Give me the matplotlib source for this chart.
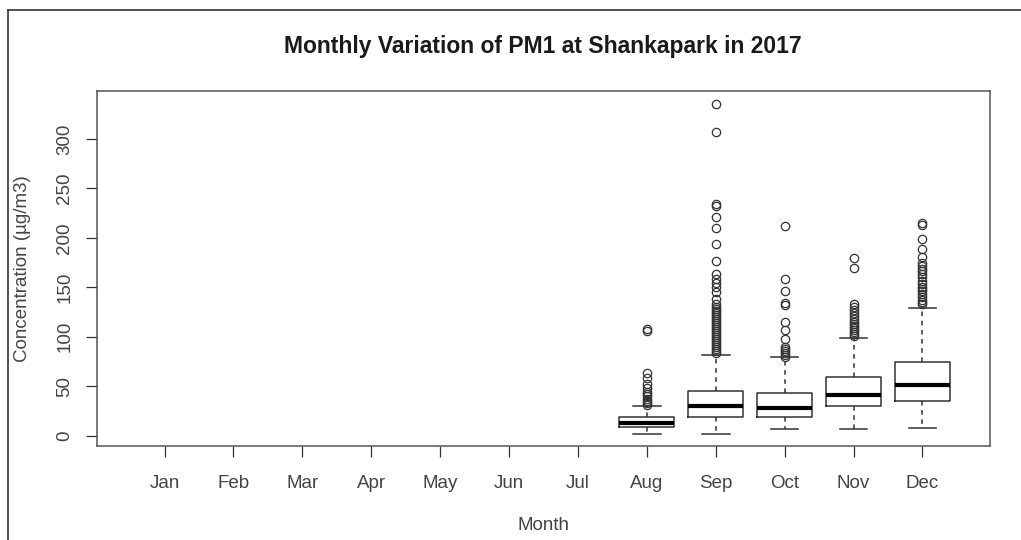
import matplotlib.pyplot as plt
from matplotlib.lines import Line2D

plt.rcParams['font.family'] = ['Liberation Sans', 'DejaVu Sans']

months = ['Jan', 'Feb', 'Mar', 'Apr', 'May', 'Jun', 'Jul', 'Aug', 'Sep', 'Oct', 'Nov', 'Dec']

# box statistics (Aug..Dec have data)
box_months = ['Aug', 'Sep', 'Oct', 'Nov', 'Dec']
whislo = [2, 2, 7, 7, 7.5]
q1 = [9, 18.5, 18.5, 30, 35.5]
med = [12.5, 29.5, 28, 41, 51]
q3 = [19, 45, 43, 59, 74]
whishi = [29.5, 82, 79, 98.5, 129]

out_aug = [31, 33, 35, 37, 40, 42, 44, 48, 52, 58, 63, 106, 108]
out_sep = [84, 86, 88, 90, 92, 94, 96, 98, 100, 102, 104, 106, 108, 110, 112,
           114, 116, 118, 120, 122, 124, 126, 128, 130, 133, 138, 145, 150,
           154, 158, 163, 177, 194, 210, 221, 232, 234, 307, 335]
out_oct = [80, 82, 84, 86, 88, 90, 98, 107, 115, 132, 134, 146, 158, 212]
out_nov = [101, 103, 105, 107, 109, 111, 113, 115, 118, 121, 124, 127, 130,
           133, 170, 180]
out_dec = [133, 135, 137, 140, 143, 146, 148, 150, 153, 156, 160, 163, 166,
           169, 172, 175, 181, 189, 199, 213, 215]
outliers = [out_aug, out_sep, out_oct, out_nov, out_dec]

stats = []
for i, m in enumerate(box_months):
    stats.append({'whislo': whislo[i], 'q1': q1[i], 'med': med[i], 'q3': q3[i],
                  'whishi': whishi[i], 'fliers': outliers[i], 'label': m})
pos = [months.index(m) + 1 for m in box_months]

lc = '#333333'
tc = '#444444'

fig = plt.figure(figsize=(10.21, 5.40), dpi=100)
ax = fig.add_axes([97 / 1021, 1 - 446 / 540, (990 - 97) / 1021, (446 - 91) / 540])

ax.bxp(stats, positions=pos, widths=0.8, showfliers=True,
       boxprops=dict(color=lc, linewidth=1.1),
       medianprops=dict(color='black', linewidth=3, solid_capstyle='butt'),
       whiskerprops=dict(color=lc, linewidth=1.1, linestyle=(0, (3, 3))),
       capprops=dict(color=lc, linewidth=1.1),
       capwidths=0.4,
       flierprops=dict(marker='o', markerfacecolor='none', markeredgecolor=lc,
                       markersize=6, markeredgewidth=0.9))

ax.set_xlim(0.5 - 0.48, 12.5 + 0.48)
ax.set_ylim(-10.5, 348.5)
ax.set_xticks(range(1, 13))
ax.set_xticklabels(months)
ax.set_yticks([0, 50, 100, 150, 200, 250, 300])
ax.set_yticklabels(['0', '50', '100', '150', '200', '250', '300'], rotation=90, va='center')
ax.tick_params(colors=lc, labelcolor=tc, labelsize=13.5, length=8, width=0.9)
ax.tick_params(axis='x', pad=13)
ax.tick_params(axis='y', pad=9)
for s in ax.spines.values():
    s.set_color('#555555')
    s.set_linewidth(1.1)

ax.set_xlabel('Month', fontsize=13.5, color=tc, labelpad=18)
ax.set_ylabel('Concentration (µg/m3)', fontsize=13.5, color=tc, labelpad=18)
fig.text(543 / 1021, 1 - 47 / 540, 'Monthly Variation of PM1 at Shankapark in 2017',
         ha='center', va='center', fontsize=16.5, fontweight='bold', color='#1a1a1a')

# outer frame (top and left edges visible in the original)
fig.add_artist(Line2D([8 / 1021, 1.0], [1 - 10 / 540, 1 - 10 / 540],
                      transform=fig.transFigure, color='#333333', linewidth=1.2))
fig.add_artist(Line2D([8 / 1021, 8 / 1021], [0, 1 - 10 / 540],
                      transform=fig.transFigure, color='#333333', linewidth=1.2))

fig.savefig('out.png', dpi=100)
